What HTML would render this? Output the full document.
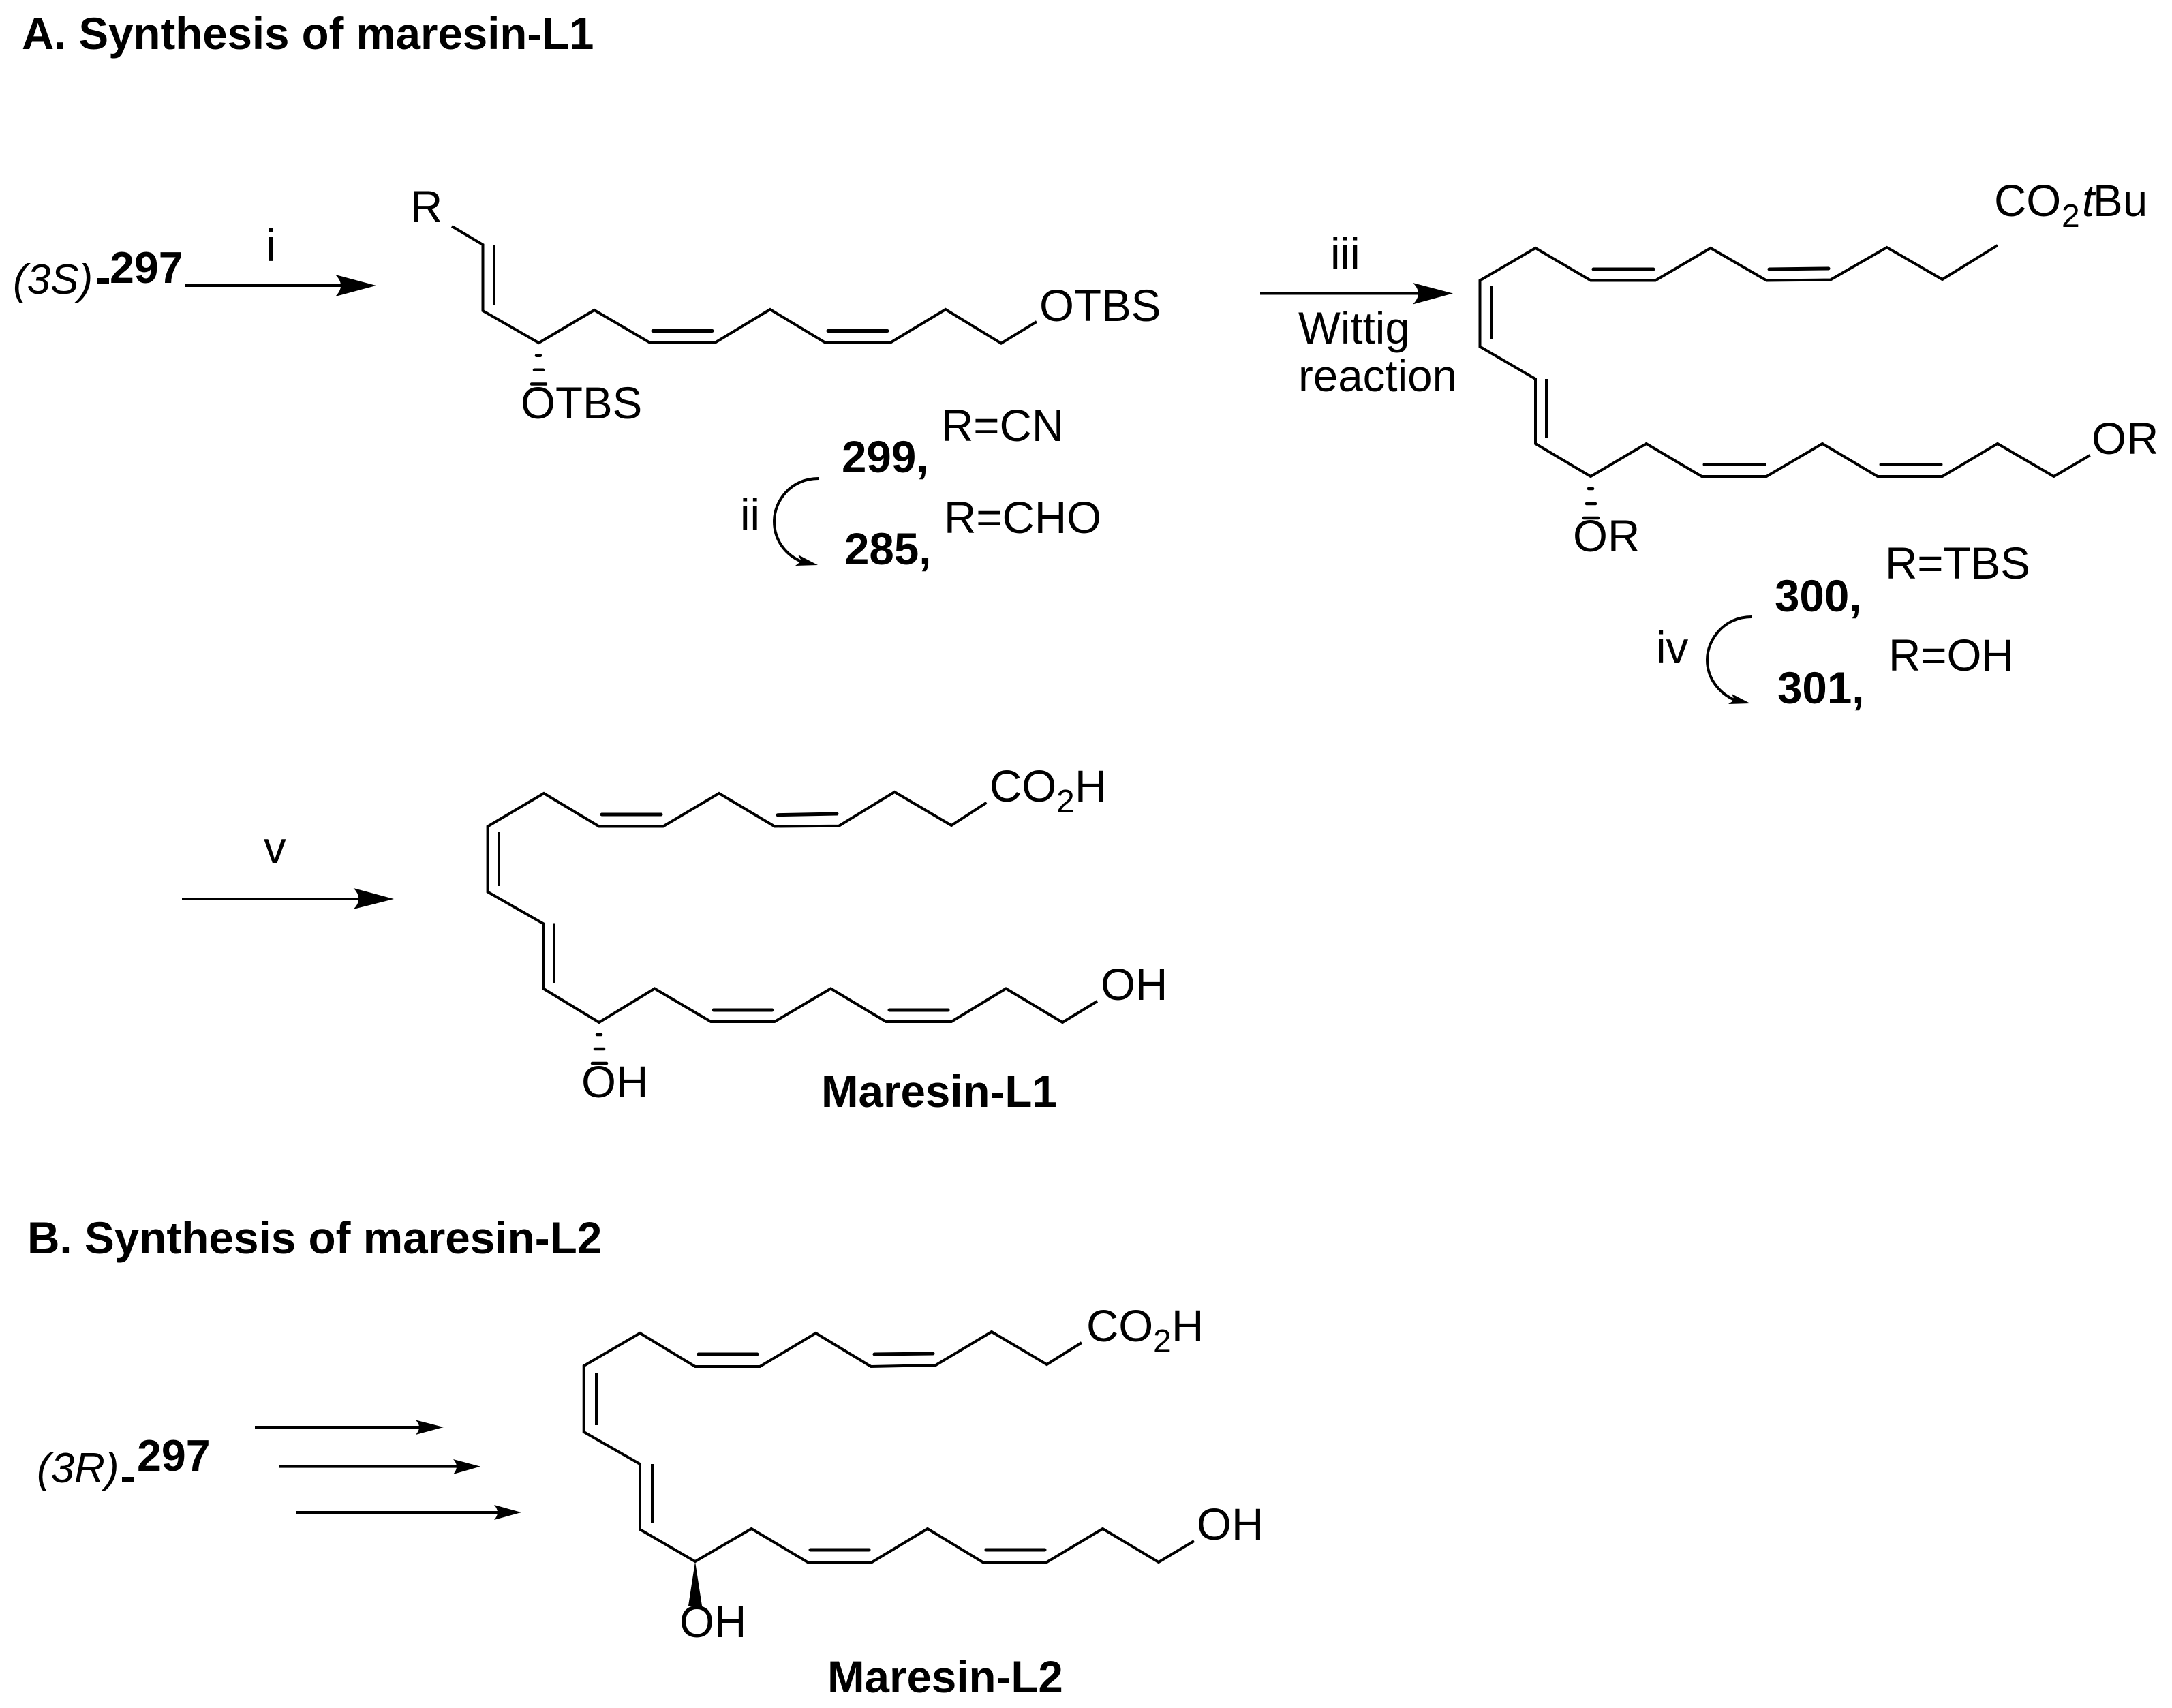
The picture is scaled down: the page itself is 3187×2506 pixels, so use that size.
<!DOCTYPE html>
<html><head><meta charset="utf-8"><style>
html,body{margin:0;padding:0;background:#fff}
svg{display:block}
text{font-family:"Liberation Sans",Arial,sans-serif;font-size:65.5px;fill:#000}
.b{font-weight:700}
.i{font-style:italic}
.s{font-size:48px}
.l{fill:none;stroke:#000;stroke-width:4;stroke-linejoin:miter;stroke-linecap:butt}
.d{fill:none;stroke:#000;stroke-width:5;stroke-linecap:round}
.h{fill:none;stroke:#000;stroke-width:4.5;stroke-linecap:round}
</style></head><body>
<svg width="3187" height="2506" viewBox="0 0 3187 2506" xmlns="http://www.w3.org/2000/svg">
<rect width="3187" height="2506" fill="#fff"/>

<text class="b" x="32" y="72" style="font-size:65.4px">A. Synthesis of maresin-L1</text>
<text class="b" x="40" y="1839" style="font-size:65.7px">B. Synthesis of maresin-L2</text>

<!-- arrow i -->
<text class="i" x="19" y="431" style="font-size:62px">(3S)</text>
<rect x="142" y="408" width="18" height="8"/>
<text class="b" x="161" y="415" style="font-size:64.5px">297</text>
<line class="l" x1="272" y1="419" x2="510" y2="419"/>
<path d="M552 419L492 403Q508 419 492 435Z"/>
<text x="390" y="383">i</text>

<!-- molecule 299 -->
<text x="602" y="326">R</text>
<polyline class="l" points="663,332 708.5,359 708.5,456 790.6,503 872,455 954,503 1048.8,503 1130,454 1211.4,503 1306,503 1387.4,454 1469,503.7 1521,472"/>
<line class="l" x1="725" y1="359" x2="725" y2="447"/>
<line class="d" x1="958" y1="485.5" x2="1045" y2="485.5"/>
<line class="d" x1="1215" y1="485.5" x2="1302" y2="485.5"/>
<line class="h" x1="787" y1="521.7" x2="793" y2="521.7"/>
<line class="h" x1="784" y1="542.7" x2="797" y2="542.7"/>
<line class="h" x1="780" y1="563.5" x2="801" y2="563.5"/>
<text x="764" y="614">OTBS</text>
<text x="1525" y="471">OTBS</text>
<text x="1381" y="647">R=CN</text>
<text x="1385" y="782">R=CHO</text>
<text class="b" x="1235" y="693">299,</text>
<text class="b" x="1239" y="828">285,</text>
<text x="1086" y="778">ii</text>
<path class="l" d="M1201 702C1160 702 1136 735 1136 765C1136 795 1155 815 1176 824"/>
<path d="M1200 829L1171 814L1176 823L1167 830Z"/>

<!-- arrow iii -->
<line class="l" x1="1849" y1="430.5" x2="2095" y2="430.5"/>
<path d="M2132 430.5L2073 415Q2089 430.5 2073 446.5Z"/>
<text x="1952" y="395">iii</text>
<text x="1905" y="504">Wittig</text>
<text x="1905" y="574">reaction</text>

<!-- molecule 300 -->
<polyline class="l" points="2931,360 2850,410 2768.6,363 2686,410.5 2592,411.5 2510,364 2429,411.5 2334,411.5 2253,364 2171.5,411.5 2171.5,508.6 2253,556 2253,651 2334,699 2415.6,651 2497,699 2592,699 2674,651 2755,699 2850,699 2931,651 3013.6,699 3066.7,668"/>
<line class="d" x1="2338" y1="395" x2="2426" y2="395"/>
<line class="d" x1="2596" y1="395" x2="2683" y2="394"/>
<line class="l" x1="2189" y1="420" x2="2189" y2="497"/>
<line class="l" x1="2269" y1="556" x2="2269" y2="642"/>
<line class="d" x1="2501" y1="681.5" x2="2589" y2="681.5"/>
<line class="d" x1="2760" y1="681.5" x2="2848" y2="681.5"/>
<line class="h" x1="2331" y1="717" x2="2337" y2="717"/>
<line class="h" x1="2328" y1="739" x2="2341" y2="739"/>
<line class="h" x1="2324" y1="760" x2="2345" y2="760"/>
<text x="2308" y="809">OR</text>
<text x="3069" y="666">OR</text>
<text x="2926" y="317">CO</text><text class="s" x="3025" y="333">2</text><text class="i" x="3055" y="317">t</text><text x="3071" y="317">Bu</text>
<text x="2766" y="849">R=TBS</text>
<text x="2771" y="984">R=OH</text>
<text class="b" x="2604" y="897">300,</text>
<text class="b" x="2608" y="1032">301,</text>
<text x="2430" y="973">iv</text>
<path class="l" d="M2570 905C2530 905 2505 938 2505 968C2505 998 2525 1018 2545 1027"/>
<path d="M2568 1032L2541 1018L2545 1027L2536 1033Z"/>

<!-- arrow v -->
<line class="l" x1="267" y1="1319" x2="540" y2="1319"/>
<path d="M578 1319L518.6 1303Q534 1319 518.6 1334Z"/>
<text x="387" y="1266">v</text>

<!-- Maresin-L1 -->
<polyline class="l" points="1447.5,1177.7 1396,1211 1312.6,1162 1231,1211.7 1136.6,1212.5 1055,1164 973,1212.5 879,1212.5 798,1164 715.6,1212.5 715.6,1308.6 798,1355.6 798,1451 879,1500 960.5,1450.5 1043,1499 1136.6,1499 1219,1450.5 1300,1499 1396,1499 1476,1450.5 1559,1500 1610,1469"/>
<line class="d" x1="883" y1="1195" x2="970" y2="1195"/>
<line class="d" x1="1141" y1="1195.7" x2="1228" y2="1194"/>
<line class="l" x1="732" y1="1221" x2="732" y2="1300"/>
<line class="l" x1="813" y1="1354.5" x2="813" y2="1442.5"/>
<line class="d" x1="1047" y1="1482" x2="1133" y2="1482"/>
<line class="d" x1="1305" y1="1482" x2="1391" y2="1482"/>
<line class="h" x1="876" y1="1518" x2="882" y2="1518"/>
<line class="h" x1="873" y1="1539" x2="886" y2="1539"/>
<line class="h" x1="869" y1="1560" x2="890" y2="1560"/>
<text x="853" y="1610">OH</text>
<text x="1615" y="1467">OH</text>
<text x="1452" y="1176">CO</text><text class="s" x="1550" y="1192">2</text><text x="1577" y="1176">H</text>
<text class="b" x="1205" y="1624">Maresin-L1</text>

<!-- B arrows -->
<text class="i" x="54" y="2175" style="font-size:62px">(3R)</text>
<rect x="179" y="2167" width="17" height="8"/>
<text class="b" x="201" y="2158" style="font-size:64.5px">297</text>
<line class="l" x1="374" y1="2094" x2="625" y2="2094"/>
<path d="M651 2094L610 2083.5Q620 2094 610 2105Z"/>
<line class="l" x1="410" y1="2151.6" x2="680" y2="2151.6"/>
<path d="M705 2151.6L665 2141Q675 2151.6 665 2163Z"/>
<line class="l" x1="434" y1="2219" x2="740" y2="2219"/>
<path d="M765 2219L725 2208Q735 2219 725 2230Z"/>

<!-- Maresin-L2 -->
<polyline class="l" points="1587,1970 1536,2002 1455,1954 1373,2003 1278,2005 1197,1956 1115,2005 1020,2005 939,1956 856.7,2004 856.7,2101 939,2148 939,2244 1020,2291 1102.6,2243 1185,2292 1279.5,2292 1361,2243 1442,2292 1536,2292 1618,2243 1700,2292 1752,2261"/>
<line class="d" x1="1025" y1="1987" x2="1111" y2="1987"/>
<line class="d" x1="1283" y1="1987" x2="1369" y2="1986"/>
<line class="l" x1="875" y1="2015" x2="875" y2="2091"/>
<line class="l" x1="957" y1="2148" x2="957" y2="2235"/>
<line class="d" x1="1189" y1="2274" x2="1275" y2="2274"/>
<line class="d" x1="1447" y1="2274" x2="1533" y2="2274"/>
<path d="M1020 2291L1030 2356L1010 2356Z"/>
<text x="997" y="2402">OH</text>
<text x="1756" y="2259">OH</text>
<text x="1594" y="1968">CO</text><text class="s" x="1692" y="1984">2</text><text x="1719" y="1968">H</text>
<text class="b" x="1214" y="2483">Maresin-L2</text>
</svg>
</body></html>
